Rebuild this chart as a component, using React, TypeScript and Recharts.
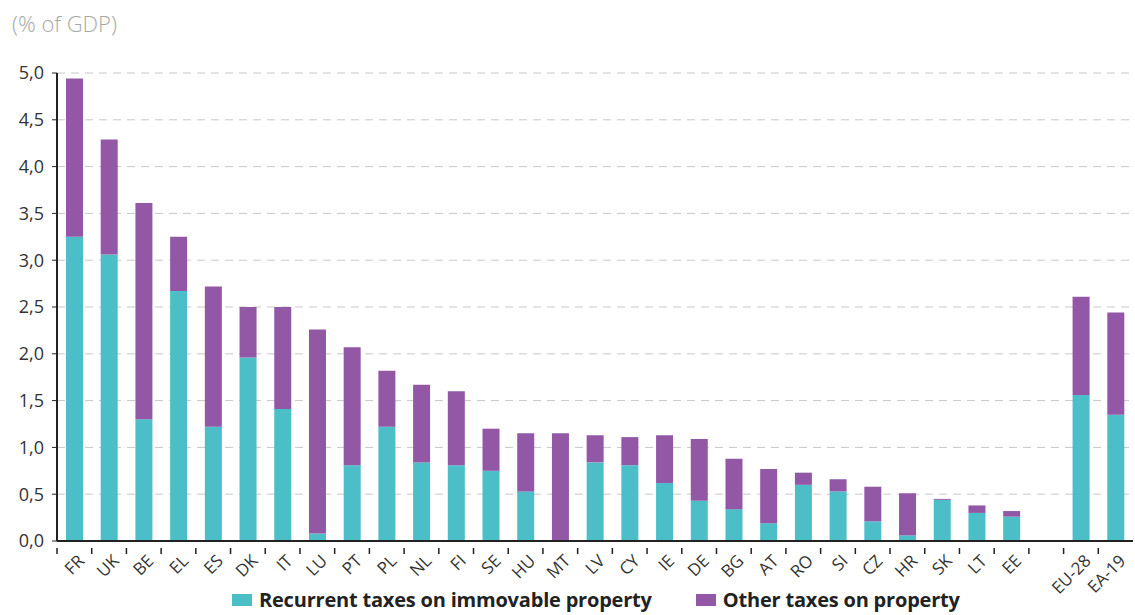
import { Bar, BarChart, CartesianGrid, Legend, XAxis, YAxis } from "recharts";

const countries = [
  "FR", "UK", "BE", "EL", "ES", "DK", "IT", "LU", "PT", "PL",
  "NL", "FI", "SE", "HU", "MT", "LV", "CY", "IE", "DE", "BG",
  "AT", "RO", "SI", "CZ", "HR", "SK", "LT", "EE", "", "EU-28", "EA-19",
];

const recurrentTaxes = [
  3.25, 3.06, 1.3, 2.67, 1.22, 1.96, 1.41, 0.08, 0.81, 1.22,
  0.84, 0.81, 0.75, 0.53, 0.0, 0.84, 0.81, 0.62, 0.43, 0.34,
  0.19, 0.6, 0.53, 0.21, 0.06, 0.44, 0.3, 0.26, null, 1.56, 1.35,
];

const otherTaxes = [
  1.69, 1.23, 2.31, 0.58, 1.5, 0.54, 1.09, 2.18, 1.26, 0.6,
  0.83, 0.79, 0.45, 0.62, 1.15, 0.29, 0.3, 0.51, 0.66, 0.54,
  0.58, 0.13, 0.13, 0.37, 0.45, 0.01, 0.08, 0.06, null, 1.05, 1.09,
];

const yTicks = [0, 0.5, 1, 1.5, 2, 2.5, 3, 3.5, 4, 4.5, 5];

const TEAL = "#4bbec8";
const PURPLE = "#9258a6";
const FONT = "'Open Sans', sans-serif";

const data = countries.map((c, i) => ({
  country: c,
  recurrent: recurrentTaxes[i],
  other: otherTaxes[i],
}));

const SLOT = 1076 / countries.length;

// label rotated -45deg, plus a small tick mark on the boundary between slots
function CountryTick(props: any) {
  const x = Number(props.x);
  const y = Number(props.y);
  return (
    <g>
      <line
        x1={x - SLOT / 2}
        x2={x - SLOT / 2}
        y1={y - 1}
        y2={y + 5}
        stroke="#222"
        strokeWidth={1.5}
      />
      <g transform={`translate(${x + 11},${y + 13}) rotate(-45)`}>
        <text x={0} y={0} textAnchor="end" fill="#333" fontSize={17} fontFamily={FONT}>
          {props.payload.value}
        </text>
      </g>
    </g>
  );
}

function LegendBox() {
  const items = [
    { label: "Recurrent taxes on immovable property", color: TEAL },
    { label: "Other taxes on property", color: PURPLE },
  ];
  return (
    <div style={{ display: "flex", gap: 44, paddingLeft: 232, fontFamily: FONT }}>
      {items.map((it) => (
        <div key={it.label} style={{ display: "flex", alignItems: "center", gap: 7 }}>
          <span style={{ width: 20, height: 12, background: it.color, display: "inline-block" }} />
          <span style={{ fontSize: 20, fontWeight: 700, color: "#222", letterSpacing: -0.2, lineHeight: "24px" }}>
            {it.label}
          </span>
        </div>
      ))}
    </div>
  );
}

export default function App() {
  return (
    <div style={{ position: "absolute", left: 0, top: 0, width: 1135, height: 615, background: "#fff" }}>
      <div
        style={{
          position: "absolute",
          left: 12,
          top: 8,
          fontFamily: FONT,
          fontSize: 22,
          color: "#a8a8a8",
          fontWeight: 300,
        }}
      >
        (% of GDP)
      </div>
      <BarChart
        width={1135}
        height={615}
        data={data}
        margin={{ top: 73, right: 2, bottom: 0, left: 0 }}
        barCategoryGap={0}
      >
        <CartesianGrid vertical={false} stroke="#c8c8c8" strokeDasharray="8 6" />
        <XAxis
          dataKey="country"
          interval={0}
          height={50}
          tickLine={false}
          axisLine={{ stroke: "#222", strokeWidth: 2 }}
          tick={(p: any) => <CountryTick {...p} />}
        />
        <YAxis
          width={57}
          domain={[0, 5]}
          ticks={yTicks}
          interval={0}
          tickSize={5}
          tickMargin={8}
          tickLine={{ stroke: "#222" }}
          axisLine={{ stroke: "#222", strokeWidth: 2 }}
          tick={{ fill: "#333", fontSize: 18, fontFamily: FONT }}
          tickFormatter={(v: number) => v.toFixed(1).replace(".", ",")}
        />
        <Legend
          verticalAlign="bottom"
          height={24}
          content={<LegendBox />}
          wrapperStyle={{ left: 0, width: 1135, bottom: 3 }}
        />
        <Bar
          dataKey="recurrent"
          name="Recurrent taxes on immovable property"
          stackId="a"
          fill={TEAL}
          barSize={17}
          isAnimationActive={false}
        />
        <Bar
          dataKey="other"
          name="Other taxes on property"
          stackId="a"
          fill={PURPLE}
          barSize={17}
          isAnimationActive={false}
        />
      </BarChart>
    </div>
  );
}
